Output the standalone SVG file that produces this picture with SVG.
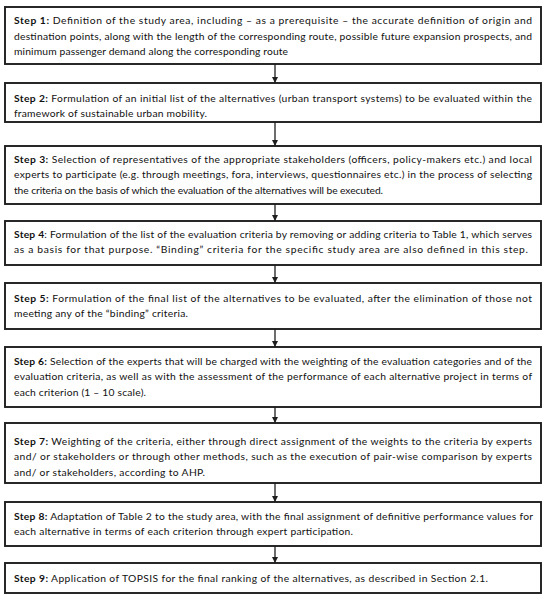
<svg xmlns="http://www.w3.org/2000/svg" width="550" height="599" viewBox="0 0 550 599">
<style>
.box{fill:#fff;stroke:#1e1e1e;stroke-width:1.9}
.t{font-family:Lato,"Open Sans","Liberation Sans",sans-serif;font-size:10.3px;fill:#111}
.b{font-weight:bold}
.c{stroke:#1e1e1e;stroke-width:1.3;fill:none}
</style>
<defs>
<marker id="ah" viewBox="0 0 10 10" refX="10" refY="5" markerWidth="6" markerHeight="6" markerUnits="userSpaceOnUse" orient="auto">
<path d="M0,0 L10,5 L0,10 z" fill="#1e1e1e"/>
</marker>
</defs>
<rect width="550" height="599" fill="#fff"/>
<g id="connectors">
<line class="c" x1="275" y1="64" x2="275" y2="83" marker-end="url(#ah)"/>
<line class="c" x1="275" y1="122" x2="275" y2="146" marker-end="url(#ah)"/>
<line class="c" x1="275" y1="204" x2="275" y2="221" marker-end="url(#ah)"/>
<line class="c" x1="275" y1="265" x2="275" y2="283" marker-end="url(#ah)"/>
<line class="c" x1="275" y1="329" x2="275" y2="347" marker-end="url(#ah)"/>
<line class="c" x1="275" y1="407" x2="275" y2="423" marker-end="url(#ah)"/>
<line class="c" x1="275" y1="483" x2="275" y2="502" marker-end="url(#ah)"/>
<line class="c" x1="275" y1="546" x2="275" y2="563" marker-end="url(#ah)"/>
</g>
<g id="step1">
<rect class="box" x="5" y="7" width="536" height="57"/>
<text class="t" x="14" y="24" textLength="518" lengthAdjust="spacing"><tspan class="b">Step 1:</tspan> Definition of the study area, including – as a prerequisite – the accurate definition of origin and</text>
<text class="t" x="14" y="39.5" textLength="518" lengthAdjust="spacing">destination points, along with the length of the corresponding route, possible future expansion prospects, and</text>
<text class="t" x="14" y="55" textLength="274" lengthAdjust="spacing">minimum passenger demand along the corresponding route</text>
</g>
<g id="step2">
<rect class="box" x="5" y="83" width="536" height="39"/>
<text class="t" x="14" y="101.5" textLength="518" lengthAdjust="spacing"><tspan class="b">Step 2:</tspan> Formulation of an initial list of the alternatives (urban transport systems) to be evaluated within the</text>
<text class="t" x="14" y="117" textLength="193" lengthAdjust="spacing">framework of sustainable urban mobility.</text>
</g>
<g id="step3">
<rect class="box" x="5" y="146" width="536" height="58"/>
<text class="t" x="14" y="163" textLength="518" lengthAdjust="spacing"><tspan class="b">Step 3:</tspan> Selection of representatives of the appropriate stakeholders (officers, policy-makers etc.) and local</text>
<text class="t" x="14" y="178.3" textLength="518" lengthAdjust="spacing">experts to participate (e.g. through meetings, fora, interviews, questionnaires etc.) in the process of selecting</text>
<text class="t" x="14" y="193.6" textLength="369" lengthAdjust="spacing">the criteria on the basis of which the evaluation of the alternatives will be executed.</text>
</g>
<g id="step4">
<rect class="box" x="5" y="221" width="536" height="44"/>
<text class="t" x="14" y="238" textLength="518" lengthAdjust="spacing"><tspan class="b">Step 4</tspan>: Formulation of the list of the evaluation criteria by removing or adding criteria to Table 1, which serves</text>
<text class="t" x="14" y="253.3" textLength="514" lengthAdjust="spacing">as a basis for that purpose. “Binding” criteria for the specific study area are also defined in this step.</text>
</g>
<g id="step5">
<rect class="box" x="5" y="283" width="536" height="46"/>
<text class="t" x="14" y="301.5" textLength="518" lengthAdjust="spacing"><tspan class="b">Step 5:</tspan> Formulation of the final list of the alternatives to be evaluated, after the elimination of those not</text>
<text class="t" x="14" y="316.8" textLength="174" lengthAdjust="spacing">meeting any of the “binding” criteria.</text>
</g>
<g id="step6">
<rect class="box" x="5" y="347" width="536" height="60"/>
<text class="t" x="14" y="365" textLength="518" lengthAdjust="spacing"><tspan class="b">Step 6:</tspan> Selection of the experts that will be charged with the weighting of the evaluation categories and of the</text>
<text class="t" x="14" y="380.3" textLength="518" lengthAdjust="spacing">evaluation criteria, as well as with the assessment of the performance of each alternative project in terms of</text>
<text class="t" x="14" y="395.6" textLength="132" lengthAdjust="spacing">each criterion (1 – 10 scale).</text>
</g>
<g id="step7">
<rect class="box" x="5" y="423" width="536" height="60"/>
<text class="t" x="14" y="445" textLength="518" lengthAdjust="spacing"><tspan class="b">Step 7:</tspan> Weighting of the criteria, either through direct assignment of the weights to the criteria by experts</text>
<text class="t" x="14" y="460.3" textLength="518" lengthAdjust="spacing">and/ or stakeholders or through other methods, such as the execution of pair-wise comparison by experts</text>
<text class="t" x="14" y="475.6" textLength="191" lengthAdjust="spacing">and/ or stakeholders, according to AHP.</text>
</g>
<g id="step8">
<rect class="box" x="5" y="502" width="536" height="44"/>
<text class="t" x="14" y="519.5" textLength="519" lengthAdjust="spacing"><tspan class="b">Step 8:</tspan> Adaptation of Table 2 to the study area, with the final assignment of definitive performance values for</text>
<text class="t" x="14" y="534.8" textLength="339" lengthAdjust="spacing">each alternative in terms of each criterion through expert participation.</text>
</g>
<g id="step9">
<rect class="box" x="5" y="563" width="536" height="30"/>
<text class="t" x="14" y="581.5" textLength="474" lengthAdjust="spacing"><tspan class="b">Step 9:</tspan> Application of TOPSIS for the final ranking of the alternatives, as described in Section 2.1.</text>
</g>
</svg>
